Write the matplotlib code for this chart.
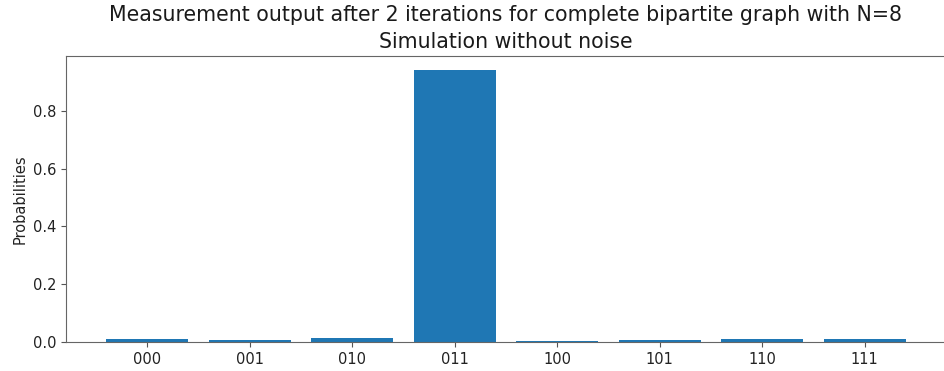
import numpy as np
import matplotlib
matplotlib.use("Agg")
import matplotlib.pyplot as plt

states = ['000', '001', '010', '011', '100', '101', '110', '111']
probs = [0.010, 0.006, 0.013, 0.943, 0.003, 0.006, 0.010, 0.009]

fig = plt.figure(figsize=(9.44, 3.71), dpi=100)
ax = fig.add_axes([0.0699, 0.0782, 0.932, 0.771])
ax.bar(states, probs, color='#1f77b4')
ax.set_ylabel('Probabilities', fontsize=10.5, color='#222222')
ax.tick_params(labelsize=10.5, colors='#555555', labelcolor='#222222')
for s in ax.spines.values():
    s.set_color('#666666')
ax.set_title('Measurement output after 2 iterations for complete bipartite graph with N=8\nSimulation without noise',
             fontsize=14.8, linespacing=1.4, color='#1a1a1a')
fig.savefig('out.png', dpi=100)
